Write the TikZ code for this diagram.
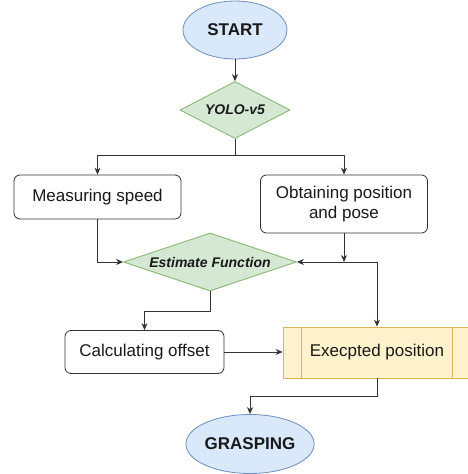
\documentclass[tikz,border=0pt]{standalone}
\usepackage{fontspec}
\setmainfont{Liberation Sans}
\usetikzlibrary{shapes.geometric,arrows.meta}
\definecolor{bluefill}{HTML}{DAE8FC}
\definecolor{blueline}{HTML}{6C8EBF}
\definecolor{greenfill}{HTML}{D5E8D4}
\definecolor{greenline}{HTML}{82B366}
\definecolor{yellowfill}{HTML}{FFF2CC}
\definecolor{yellowline}{HTML}{D6B656}
\definecolor{inkgray}{HTML}{333333}
\begin{document}
\begin{tikzpicture}[x=1pt, y=-1pt, line join=round,
  every node/.style={font=\fontsize{17}{20}\selectfont, text=black!90},
  term/.style={ellipse, draw=blueline, fill=bluefill, line width=0.8pt, inner sep=0pt, font=\fontsize{17}{20}\selectfont\bfseries},
  decide/.style={diamond, aspect=3, draw=greenline, fill=greenfill, line width=0.8pt, inner sep=0pt, font=\fontsize{14}{17}\selectfont\bfseries\itshape},
  stepbox/.style={rectangle, rounded corners=6pt, draw=inkgray, fill=white, line width=0.8pt, align=center},
  subproc/.style={rectangle, draw=yellowline, fill=yellowfill, line width=0.8pt},
  flow/.style={draw=inkgray, line width=0.8pt, -{Stealth[length=7pt, width=6pt]}},
  link/.style={draw=inkgray, line width=0.8pt}]
  \useasboundingbox (0,0) rectangle (468,474);
  % terminals and decisions
  \node[term, minimum width=104, minimum height=58] (start) at (235,30) {START};
  \node[decide, minimum width=110, minimum height=57] (yolo) at (235,110) {YOLO-v5};
  \node[decide, minimum width=173, minimum height=58] (estim) at (210,262) {Estimate Function};
  \node[term, minimum width=124, minimum height=59] (grasp) at (250,444) {GRASPING};
  % process steps
  \node[stepbox, minimum width=167, minimum height=44] (speed) at (97.5,197) {Measuring speed};
  \node[stepbox, minimum width=167, minimum height=58] (pose) at (344,204) {Obtaining position\\and pose};
  \node[stepbox, minimum width=159, minimum height=43] (offset) at (144.5,352) {Calculating offset};
  \node[subproc, minimum width=188, minimum height=51] (expos) at (377,352.5) {Execpted position};
  \draw[yellowline, line width=0.8pt] ([xshift=19pt]expos.north west) -- ([xshift=19pt]expos.south west);
  \draw[yellowline, line width=0.8pt] ([xshift=-19pt]expos.north east) -- ([xshift=-19pt]expos.south east);
  % connectors
  \coordinate (split) at (235,155);
  \coordinate (meet) at (pose.south |- estim.east);
  \coordinate (fork) at (expos.north |- estim.east);
  \draw[flow] (start) -- (yolo);
  \draw[link] (yolo.south) -- (split);
  \draw[flow] (split) -| (speed.north);
  \draw[flow] (split) -| (pose.north);
  \draw[flow] (speed.south) |- (estim.west);
  \draw[flow] (pose.south) -- (meet);
  \draw[flow] (fork) -- (estim.east);
  \draw[flow] (fork) -- (expos.north);
  \draw[flow] (estim.south) -- ++(0,20) -| (offset.north);
  \draw[flow] (offset.east) -- (offset.east -| expos.west);
  \draw[flow] (expos.south) -- ++(0,18) -| (grasp.north);
\end{tikzpicture}
\end{document}
